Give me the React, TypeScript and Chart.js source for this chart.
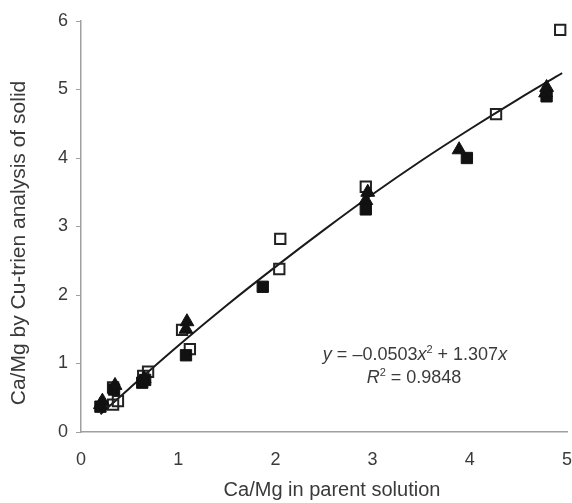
import React, { useEffect, useRef } from "react";
import { Chart, registerables } from "chart.js";

Chart.register(...registerables);

// Open squares
const openSqX = [0.33, 0.33, 0.38, 0.64, 0.69, 1.04, 1.12, 2.04, 2.05, 2.93, 4.27, 4.93];
const openSqY = [0.65, 0.40, 0.45, 0.82, 0.88, 1.49, 1.21, 2.38, 2.82, 3.58, 4.64, 5.87];
// Filled squares
const fillSqX = [0.2, 0.34, 0.63, 0.66, 1.08, 1.87, 2.93, 3.97, 4.79];
const fillSqY = [0.37, 0.62, 0.72, 0.76, 1.12, 2.12, 3.25, 4.0, 4.9];
// Filled triangles
const triX = [0.2, 0.22, 0.35, 0.65, 1.08, 1.09, 2.93, 2.95, 3.89, 4.78, 4.79];
const triY = [0.40, 0.45, 0.68, 0.78, 1.50, 1.61, 3.38, 3.50, 4.12, 4.95, 5.03];
// Fitted trend line
const fitX = [0.2, 0.5, 1.0, 1.5, 2.0, 2.5, 3.0, 3.5, 4.0, 4.5, 4.95];
const fitY = [0.26, 0.64, 1.26, 1.85, 2.41, 2.95, 3.47, 3.96, 4.42, 4.86, 5.24];

const xTicks = [0, 1, 2, 3, 4, 5];
const yTicks = [0, 1, 2, 3, 4, 5, 6];

const xTitle = "Ca/Mg in parent solution";
const yTitle = "Ca/Mg by Cu-trien analysis of solid";
const eqLine1 = [
  { t: "y", i: true }, { t: " = \u20130.0503" }, { t: "x", i: true }, { t: "2", sup: true },
  { t: " + 1.307" }, { t: "x", i: true },
];
const eqLine2 = [{ t: "R", i: true }, { t: "2", sup: true }, { t: " = 0.9848" }];

const FONT = "'Liberation Sans', Arial, sans-serif";
const TXT = "#3a3a3a";
const PLOT_RIGHT = 567;

const pts = (xs: number[], ys: number[]) => xs.map((x, k) => ({ x, y: ys[k] }));

const layoutFix = {
  id: "layoutFix",
  afterLayout(chart: any) {
    const xs = chart.scales.x;
    xs.right = PLOT_RIGHT;
    xs.width = PLOT_RIGHT - xs.left;
    xs.configure();
    chart.chartArea.right = PLOT_RIGHT;
    chart.chartArea.width = PLOT_RIGHT - chart.chartArea.left;
  },
};

const textPlugin = {
  id: "eq",
  afterDraw(chart: any) {
    const ctx = chart.ctx;
    const drawLine = (segs: any[], cx: number, baseY: number) => {
      const size = 18;
      const measure = (s: any) => {
        const sz = s.sup ? 11 : size;
        ctx.font = `${s.i ? "italic " : ""}${sz}px ${FONT}`;
        return ctx.measureText(s.t).width;
      };
      const total = segs.reduce((a, s) => a + measure(s), 0);
      let x = cx - total / 2;
      ctx.save();
      ctx.fillStyle = TXT;
      ctx.textBaseline = "alphabetic";
      ctx.textAlign = "left";
      for (const s of segs) {
        const w = measure(s);
        ctx.fillText(s.t, x, s.sup ? baseY - 7 : baseY);
        x += w;
      }
      ctx.restore();
    };
    drawLine(eqLine1, 415, 360);
    drawLine(eqLine2, 414, 383);

    // x-axis title
    ctx.save();
    ctx.font = `20px ${FONT}`;
    ctx.fillStyle = TXT;
    ctx.textAlign = "center";
    ctx.textBaseline = "middle";
    ctx.fillText(xTitle, 332, 490);
    ctx.restore();

    // y-axis title
    ctx.save();
    ctx.translate(19, 243);
    ctx.rotate(-Math.PI / 2);
    ctx.font = `21px ${FONT}`;
    ctx.fillStyle = TXT;
    ctx.textAlign = "center";
    ctx.textBaseline = "middle";
    ctx.fillText(yTitle, 0, 0);
    ctx.restore();
  },
};

export default function App() {
  const ref = useRef<HTMLCanvasElement>(null);
  useEffect(() => {
    if (!ref.current) return;
    const chart = new Chart(ref.current, {
      type: "scatter",
      data: {
        datasets: [
          {
            label: "tri",
            data: pts(triX, triY),
            pointStyle: "triangle",
            pointRadius: 8,
            backgroundColor: "#111",
            borderColor: "#111",
            borderWidth: 1,
          },
          {
            label: "fsq",
            data: pts(fillSqX, fillSqY),
            pointStyle: "rect",
            pointRadius: 8,
            backgroundColor: "#111",
            borderColor: "#111",
            borderWidth: 1,
          },
          {
            label: "osq",
            data: pts(openSqX, openSqY),
            pointStyle: "rect",
            pointRadius: 7.3,
            backgroundColor: "rgba(255,255,255,0)",
            borderColor: "#222",
            borderWidth: 2,
          },
          {
            type: "line",
            label: "fit",
            data: pts(fitX, fitY),
            showLine: true,
            pointRadius: 0,
            borderColor: "#1a1a1a",
            borderWidth: 2,
            tension: 0.4,
            cubicInterpolationMode: "monotone",
            fill: false,
          } as any,
        ],
      },
      options: {
        animation: false,
        responsive: false,
        devicePixelRatio: 1,
        layout: { padding: { top: 21, right: 0, left: 0, bottom: 0 } },
        plugins: { legend: { display: false }, tooltip: { enabled: false } },
        scales: {
          x: {
            type: "linear",
            min: 0,
            max: 5,
            afterBuildTicks: (s: any) => { s.ticks = xTicks.map((v) => ({ value: v })); },
            afterFit: (s: any) => { s.height = 71; },
            grid: { display: false, drawOnChartArea: false, drawTicks: true, tickLength: 5, color: "#a0a0a0" },
            border: { color: "#a0a0a0", width: 1.5 },
            ticks: { color: TXT, font: { family: FONT, size: 18 }, padding: 12 },
            title: { display: false },
          },
          y: {
            type: "linear",
            min: 0,
            max: 6,
            afterBuildTicks: (s: any) => { s.ticks = yTicks.map((v) => ({ value: v })); },
            afterFit: (s: any) => { s.width = 81; },
            grid: { display: true, drawOnChartArea: false, drawTicks: true, tickLength: 5, color: "#a0a0a0" },
            border: { color: "#a0a0a0", width: 1.5 },
            ticks: { color: TXT, font: { family: FONT, size: 18 }, padding: 8 },
            title: { display: false },
          },
        },
      },
      plugins: [layoutFix, textPlugin],
    } as any);
    return () => chart.destroy();
  }, []);
  return (
    <div style={{ position: "absolute", left: 0, top: 0, width: 572, height: 503, background: "#fff" }}>
      <canvas ref={ref} width={572} height={503} />
    </div>
  );
}
